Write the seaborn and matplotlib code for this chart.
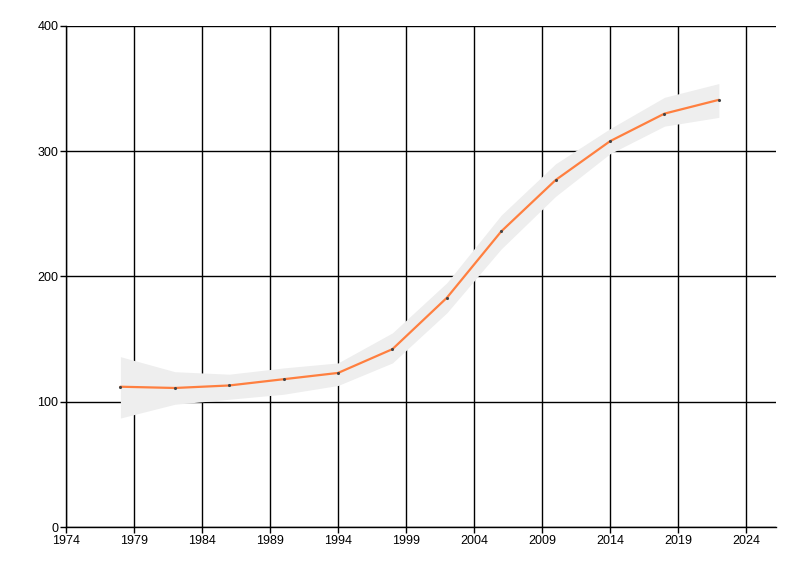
import numpy as np
import pandas as pd
import seaborn as sns
import matplotlib.pyplot as plt

# values
years = [1978, 1982, 1986, 1990, 1994, 1998, 2002, 2006, 2010, 2014, 2018, 2022]
values = [112, 111, 113, 118, 123, 142, 183, 236, 277, 308, 330, 341]
band_low = [87, 98, 102, 106, 113, 131, 171, 222, 264, 298, 320, 327]
band_high = [136, 124, 122, 127, 131, 155, 195, 249, 290, 318, 343, 354]

x_ticks = [1974, 1979, 1984, 1989, 1994, 1999, 2004, 2009, 2014, 2019, 2024]
y_ticks = [0, 100, 200, 300, 400]

df = pd.DataFrame({"year": years, "value": values, "low": band_low, "high": band_high})

sns.set_style("white")
plt.rcParams['font.family'] = ['Liberation Sans', 'DejaVu Sans']

fig = plt.figure(figsize=(8, 5.76), dpi=100)
ax = fig.add_axes([0.0825, 0.085, 0.8875, 0.87])

# confidence band
ax.fill_between(df["year"], df["low"], df["high"], color="#eeeeee", linewidth=0, zorder=2)

# black grid
for xt in x_ticks:
    ax.axvline(xt, color="black", linewidth=1, zorder=1)
for yt in y_ticks:
    ax.axhline(yt, color="black", linewidth=1, zorder=1)

sns.lineplot(data=df, x="year", y="value", color="#ff7f3f", linewidth=1.6, ax=ax, zorder=3)
sns.scatterplot(data=df, x="year", y="value", color="#444444", s=5, linewidth=0, ax=ax, zorder=4)

ax.set_xlim(1974, 2026.2)
ax.set_ylim(0, 400)
ax.set_xticks(x_ticks)
ax.set_yticks(y_ticks)
ax.set_xlabel("")
ax.set_ylabel("")
ax.tick_params(axis="both", direction="out", length=4, width=1, color="black",
               labelsize=9, labelcolor="black", pad=1.5, left=True, bottom=True)

for side in ["top", "right"]:
    ax.spines[side].set_visible(False)
for side in ["left", "bottom"]:
    ax.spines[side].set_color("black")
    ax.spines[side].set_linewidth(1)

fig.savefig("out.png", dpi=100)
